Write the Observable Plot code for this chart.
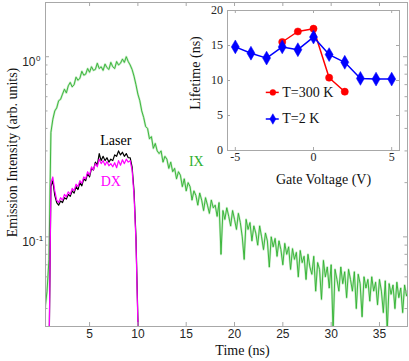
<!DOCTYPE html>
<html><head><meta charset="utf-8">
<script src="https://cdn.jsdelivr.net/npm/d3@7"></script>
<script src="https://cdn.jsdelivr.net/npm/@observablehq/plot@0.6"></script>
<style>
html,body{margin:0;padding:0;background:#fff;}
#wrap{position:relative;width:409px;height:361px;}
#main{position:absolute;left:0;top:0;width:409px;}
#inset{position:absolute;left:190px;top:0;width:215px;}
</style>
</head><body><div id="wrap"><div id="main"></div><div id="inset"></div></div>
<script>
// ---------- data: main panel (time in ns, sampling grid) ----------
const ixStart = 0.4, ixStep = 0.2;
const ixValues = [
  0.040,0.050,0.075,0.38,0.45,0.50,0.52,0.57,0.58,0.62,
  0.66,0.63,0.69,0.72,0.68,0.70,0.77,0.74,0.76,0.83,
  0.79,0.80,0.86,0.82,0.88,0.84,0.85,0.92,0.86,0.88,
  0.84,0.91,0.87,0.85,0.93,0.88,0.86,0.94,0.90,0.92,
  0.97,0.93,1.00,0.94,0.90,0.85,0.78,0.70,0.62,0.57,
  0.50,0.46,0.41,0.40,0.35,0.36,0.31,0.33,0.30,0.29,
  0.30,0.26,0.28,0.27,0.24,0.26,0.23,0.24,0.21,0.23,
  0.22,0.19,0.21,0.18,0.20,0.19,0.16,0.18,0.17,0.15,
  0.175,0.16,0.14,0.165,0.15,0.135,0.16,0.145,0.15,0.13,
  0.155,0.08,0.14,0.125,0.145,0.13,0.115,0.14,0.125,0.11,
  0.135,0.12,0.10,0.075,0.125,0.11,0.12,0.095,0.115,0.105,
  0.09,0.115,0.10,0.085,0.105,0.095,0.068,0.10,0.088,0.098,
  0.078,0.095,0.085,0.07,0.092,0.08,0.088,0.066,0.086,0.075,
  0.082,0.06,0.084,0.072,0.078,0.058,0.08,0.068,0.062,0.078,
  0.05,0.072,0.066,0.045,0.074,0.06,0.068,0.052,0.07,0.03,
  0.066,0.058,0.05,0.068,0.055,0.064,0.046,0.066,0.058,0.05,
  0.064,0.04,0.062,0.055,0.036,0.06,0.052,0.058,0.044,0.06,
  0.05,0.056,0.042,0.058,0.05,0.038,0.057,0.03,0.055,0.048,
  0.054,0.04,0.056,0.046,0.052,0.038,0.054,0.047,0.05
];
const exStart = 0.6, exStep = 0.2;
const laserValues = [
  0.01,0.02,0.19,0.205,0.17,0.155,0.15,0.158,0.155,0.165,
  0.162,0.172,0.168,0.18,0.175,0.19,0.183,0.20,0.192,0.21,
  0.205,0.225,0.215,0.24,0.235,0.26,0.25,0.29,0.265,0.28,
  0.265,0.275,0.26,0.27,0.265,0.285,0.28,0.30,0.285,0.295,
  0.28,0.29,0.275,0.275,0.245,0.18,0.10,0.035,0.012
];
const dxValues = [
  0.01,0.02,0.20,0.215,0.18,0.16,0.155,0.165,0.16,0.172,
  0.167,0.178,0.172,0.186,0.18,0.196,0.19,0.205,0.198,0.215,
  0.21,0.23,0.22,0.245,0.235,0.255,0.245,0.27,0.255,0.265,
  0.25,0.262,0.248,0.255,0.245,0.258,0.242,0.265,0.25,0.268,
  0.255,0.27,0.26,0.265,0.235,0.17,0.095,0.033,0.012
];
const timeTicks = [5,10,15,20,25,30,35];
const intensityMajor = [0.1, 1];
const intensityExp = ["-1", "0"];
const intensityMinor = [0.04,0.05,0.06,0.07,0.08,0.09,0.2,0.3,0.4,0.5,0.6,0.7,0.8,0.9,2];
const curveLabels = [
  {t: 7.72, v: 0.341, s: "Laser", c: "#000000"},
  {t: 7.2,  v: 0.202, s: "DX",    c: "#ff00ff"},
  {t: 16.05, v: 0.263, s: "IX",   c: "#2fb12f"}
];

// ---------- data: inset ----------
const gateVoltage300 = [-2,-1,0,1,2];
const lifetime300 = [15.5,17.0,17.4,10.4,8.4];
const gateVoltage2 = [-5,-4,-3,-2,-1,0,1,2,3,4,5];
const lifetime2 = [14.8,13.9,13.2,14.8,14.4,16.2,13.7,12.6,10.3,10.2,10.2];
const voltageTicks = [-5,0,5];
const lifetimeTicks = [0,5,10,15,20];
const legendItems = [
  {label: "T=300 K", y: 8.3, color: "#ff0000", symbol: "circle", r: 3.6},
  {label: "T=2 K",   y: 4.5, color: "#0000ff", symbol: "diamond", r: 4.2}
];
const legendX = {x1: -3.02, x2: -2.19, mark: -2.6, text: -2.0};

// ---------- build tables ----------
const ix = ixValues.map((v,i)=>({t: +(ixStart + i*ixStep).toFixed(2), v}));
const laser = laserValues.map((v,i)=>({t: +(exStart + i*exStep).toFixed(2), v}));
const dx = dxValues.map((v,i)=>({t: +(exStart + i*exStep).toFixed(2), v}));
const t300 = gateVoltage300.map((g,i)=>({g, l: lifetime300[i]}));
const t2 = gateVoltage2.map((g,i)=>({g, l: lifetime2[i]}));

const serif = "'Liberation Serif', 'Times New Roman', serif";
const sans = "'Liberation Sans', Arial, sans-serif";
const frameColor = "#a8a8a8";
const textColor = "#262626";

// ---------- main plot ----------
const W=409, H=361, mL=45, mR=2, mT=2, mB=35;
const iw = W-mL-mR, ih = H-mT-mB;
const main = Plot.plot({
  width: W, height: H, marginLeft: mL, marginRight: mR, marginTop: mT, marginBottom: mB,
  style: {fontFamily: sans, fontSize: "12px", color: textColor, background: "transparent", overflow: "visible"},
  x: {domain: [0.44, 37.9], axis: null},
  y: {type: "log", domain: [0.0318, 2.0], axis: null},
  marks: [
    Plot.line(ix, {x: "t", y: "v", stroke: "#7fd07f", strokeWidth: 2.2, strokeOpacity: 0.45, clip: true}),
    Plot.line(ix, {x: "t", y: "v", stroke: "#2fb12f", strokeWidth: 0.9, clip: true}),
    Plot.line(laser, {x: "t", y: "v", stroke: "#000000", strokeWidth: 1.2, clip: true}),
    Plot.line(dx, {x: "t", y: "v", stroke: "#ff00ff", strokeWidth: 1.2, clip: true}),
    Plot.frame({stroke: frameColor}),
    Plot.tickX(timeTicks, {x: d=>d, insetTop: ih-4, stroke: frameColor}),
    Plot.tickX(timeTicks, {x: d=>d, insetBottom: ih-4, stroke: frameColor}),
    Plot.tickY(intensityMajor, {y: d=>d, insetRight: iw-4, stroke: frameColor}),
    Plot.tickY(intensityMajor, {y: d=>d, insetLeft: iw-4, stroke: frameColor}),
    Plot.tickY(intensityMinor, {y: d=>d, insetRight: iw-2.5, stroke: frameColor}),
    Plot.tickY(intensityMinor, {y: d=>d, insetLeft: iw-2.5, stroke: frameColor}),
    Plot.text(timeTicks, {x: d=>d, frameAnchor: "bottom", dy: 11, text: d=>String(d), fill: textColor, fontSize: 12}),
    Plot.text(intensityMajor, {y: d=>d, frameAnchor: "left", dx: -10, dy: 5, textAnchor: "end",
      text: () => "10", fill: textColor, fontSize: 12}),
    Plot.text(intensityMajor, {y: d=>d, frameAnchor: "left", dx: -9.5, dy: 1.5, textAnchor: "start",
      text: (d,i)=>intensityExp[i], fill: textColor, fontSize: 8}),
    Plot.text(["Time (ns)"], {frameAnchor: "bottom", dx: 16, dy: 28, textAnchor: "middle", text: d=>d, fontFamily: serif, fontSize: 14, fill: "#111"}),
    Plot.text(["Emission Intensity (arb. units)"], {frameAnchor: "left", dx: -33, dy: -12, rotate: -90, textAnchor: "middle", text: d=>d, fontFamily: serif, fontSize: 14, fill: "#111"}),
    Plot.text(curveLabels, {x: "t", y: "v", text: "s", fill: "c", fontFamily: serif, fontSize: 14})
  ]
});
document.getElementById("main").appendChild(main);

// ---------- inset plot ----------
const IW=215, IH=195, iL=37, iR=6, iT=10, iB=45;
const iiw = IW-iL-iR, iih = IH-iT-iB;
const inset = Plot.plot({
  width: IW, height: IH, marginLeft: iL, marginRight: iR, marginTop: iT, marginBottom: iB,
  style: {fontFamily: serif, fontSize: "12px", color: textColor, background: "transparent", overflow: "visible"},
  x: {domain: [-5.5, 5.5], axis: null},
  y: {domain: [0, 20], axis: null},
  marks: [
    Plot.frame({fill: "white", stroke: frameColor}),
    Plot.tickX(voltageTicks, {x: d=>d, insetTop: iih-3, stroke: frameColor}),
    Plot.tickX(voltageTicks, {x: d=>d, insetBottom: iih-3, stroke: frameColor}),
    Plot.tickY(lifetimeTicks, {y: d=>d, insetRight: iiw-3, stroke: frameColor}),
    Plot.tickY(lifetimeTicks, {y: d=>d, insetLeft: iiw-3, stroke: frameColor}),
    Plot.text(voltageTicks, {x: d=>d, frameAnchor: "bottom", dy: 10.5, text: d=>String(d), fill: textColor}),
    Plot.text(lifetimeTicks, {y: d=>d, frameAnchor: "left", dx: -4.5, textAnchor: "end", text: d=>String(d), fill: textColor}),
    Plot.line(t300, {x: "g", y: "l", stroke: "#ff0000", strokeWidth: 1.5}),
    Plot.dot(t300, {x: "g", y: "l", r: 3.6, fill: "#ff0000", stroke: "#ff0000", strokeWidth: 0.5}),
    Plot.line(t2, {x: "g", y: "l", stroke: "#0000ff", strokeWidth: 1.5}),
    Plot.dot(t2, {x: "g", y: "l", symbol: "diamond", r: 4.2, fill: "#0000ff", stroke: "#0000ff", strokeWidth: 0.5}),
    Plot.ruleY(legendItems, {y: "y", x1: legendX.x1, x2: legendX.x2, stroke: "color", strokeWidth: 1.5}),
    Plot.dot(legendItems, {x: legendX.mark, y: "y", symbol: "symbol", r: "r", fill: "color", stroke: "color", strokeWidth: 0.5}),
    Plot.text(legendItems, {x: legendX.text, y: "y", text: "label", textAnchor: "start", fontSize: 14, fill: "#111"}),
    Plot.text(["Gate Voltage (V)"], {frameAnchor: "bottom", dx: 10, dy: 33, textAnchor: "middle", text: d=>d, fontSize: 14, fill: "#111"}),
    Plot.text(["Lifetime (ns)"], {frameAnchor: "left", dx: -32, dy: -7.5, rotate: -90, textAnchor: "middle", text: d=>d, fontSize: 14, fill: "#111"})
  ]
});
document.getElementById("inset").appendChild(inset);
</script>
</body></html>
